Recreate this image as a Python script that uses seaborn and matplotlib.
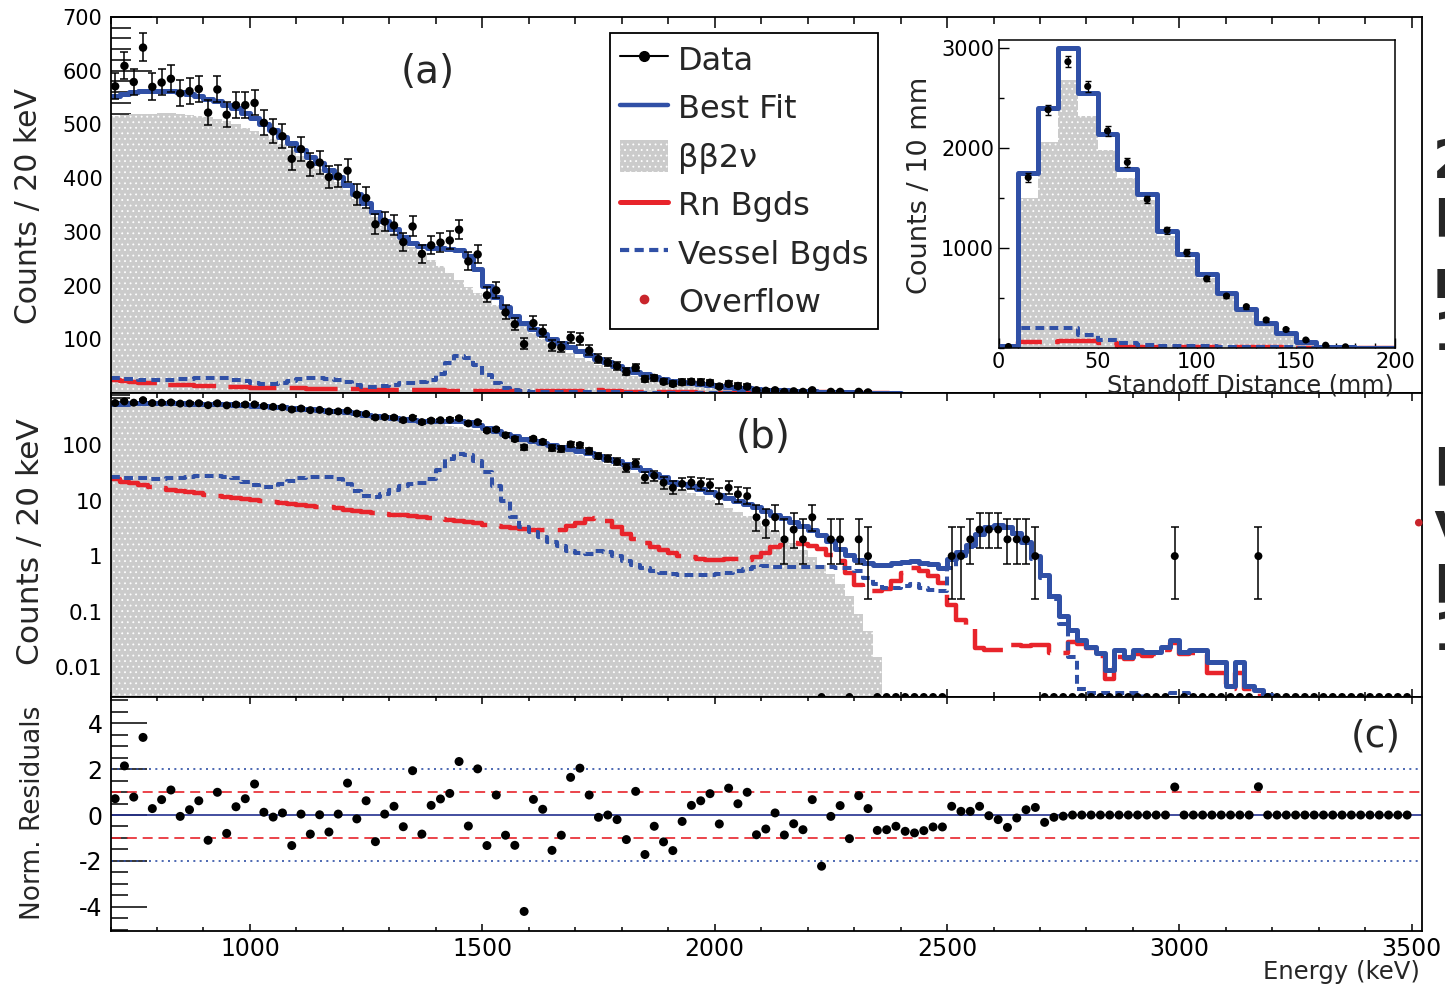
import numpy as np
import pandas as pd
import matplotlib
matplotlib.use("Agg")
import matplotlib.pyplot as plt
import seaborn as sns
from matplotlib.ticker import FixedLocator, MultipleLocator, LogLocator, NullFormatter, FuncFormatter
from matplotlib.lines import Line2D
from matplotlib.patches import Patch

sns.set_style("ticks")
plt.rcParams["font.family"] = ["DejaVu Sans"]
plt.rcParams["axes.unicode_minus"] = False
plt.rcParams["hatch.linewidth"] = 0.6

# ---------------- energy spectrum: 20 keV bins, 700-3500 keV ----------------
energy_edges = np.arange(700, 3501, 20)
energy = energy_edges[:-1] + 10

data_counts = np.array([
    571, 609, 579, 643, 570, 578, 585, 558, 562, 566,
    522, 565, 518, 536, 536, 540, 503, 487, 478, 436,
    454, 425, 429, 402, 403, 414, 369, 363, 314, 319,
    312, 281, 310, 259, 275, 280, 284, 304, 245, 258,
    182, 191, 150, 128, 91, 130, 114, 88, 85, 103,
    100, 79, 63, 57, 50, 39, 47, 26, 28, 21,
    17, 20, 21, 20, 19, 12, 17, 13, 12, 5,
    4, 5, 2, 3, 2, 5, 0, 2, 2, 0,
    2, 1, 0, 0, 0, 0, 0, 0, 0, 0,
    1, 1, 2, 3, 3, 3, 2, 2, 2, 1,
    0, 0, 0, 0, 0, 0, 0, 0, 0, 0,
    0, 0, 0, 0, 1, 0, 0, 0, 0, 0,
    0, 0, 0, 1, 0, 0, 0, 0, 0, 0,
    0, 0, 0, 0, 0, 0, 0, 0, 0, 0,
], dtype=float)

best_fit = np.array([
    553, 557, 560, 562, 563, 563, 562, 560, 557, 553,
    548, 543, 537, 530, 521, 512, 501, 489, 477, 465,
    453, 440, 428, 416, 402, 388, 371, 354, 337, 320,
    305, 291, 280, 273, 270, 270, 269, 267, 255, 230,
    200, 178, 160, 144, 131, 120, 110, 101, 93, 86,
    78, 71, 64, 57, 51, 45, 40, 35, 30.5, 26.5,
    22, 20, 18, 16, 14.2, 12.6, 11.1, 9.8, 8.6, 7.5,
    6.5, 5.6, 4.8, 4.1, 3.5, 2.95, 2.4, 1.85, 1.35, 1.05,
    0.85, 0.74, 0.69, 0.70, 0.74, 0.79, 0.80, 0.76, 0.72, 0.62,
    0.9, 1.2, 1.6, 2.5, 3.3, 3.6, 3.3, 2.6, 1.8, 1.0,
    0.45, 0.19, 0.085, 0.046, 0.031, 0.023, 0.018, 0.009, 0.02, 0.015,
    0.02, 0.019, 0.019, 0.023, 0.031, 0.019, 0.02, 0.02, 0.0125, 0.0125,
    0.0045, 0.0125, 0.0045, 0.0039, 0.0032, 0.001, 0.001, 0.001, 0.001, 0.001,
    0.001, 0.001, 0.001, 0.001, 0.001, 0.001, 0.001, 0.001, 0.001, 0.001,
])

bb2nu = np.array([
    516, 518, 519, 520, 520, 521, 521, 520, 518, 516,
    513, 510, 506, 501, 494, 488, 481, 472, 463, 452,
    441, 429, 417, 405, 392, 378, 362, 345, 328, 311,
    297, 284, 272, 260, 248, 236, 223, 211, 198, 187,
    176, 163, 150, 137, 124, 112, 101, 91, 82, 74,
    66, 59, 52, 46, 40.5, 35.5, 31, 27, 23.5, 20.3,
    18, 15.8, 13.8, 12, 10.3, 8.8, 7.4, 6.2, 5.2, 4.3,
    3.5, 2.8, 2.2, 1.7, 1.3, 0.95, 0.7, 0.48, 0.32, 0.19,
    0.09, 0.045, 0.015, 0, 0, 0, 0, 0, 0, 0,
    0, 0, 0, 0, 0, 0, 0, 0, 0, 0,
    0, 0, 0, 0, 0, 0, 0, 0, 0, 0,
    0, 0, 0, 0, 0, 0, 0, 0, 0, 0,
    0, 0, 0, 0, 0, 0, 0, 0, 0, 0,
    0, 0, 0, 0, 0, 0, 0, 0, 0, 0,
])

rn_bgds = np.array([
    24, 22, 20.5, 19, 17.7, 16.6, 15.7, 14.9, 14.2, 13.5,
    12.8, 12.2, 11.6, 11.1, 10.6, 10.2, 9.8, 9.4, 9.0, 8.7,
    8.4, 8.1, 7.8, 7.5, 7.2, 6.9, 6.6, 6.3, 6.0, 5.8,
    5.6, 5.4, 5.2, 5.0, 4.9, 4.7, 4.5, 4.3, 4.1, 3.9,
    3.7, 3.5, 3.35, 3.2, 3.05, 2.95, 2.9, 2.9, 3.0, 3.5,
    4.0, 4.6, 4.8, 4.3, 3.4, 2.5, 2.0, 1.7, 1.45, 1.28,
    1.12, 1.02, 0.95, 0.9, 0.86, 0.86, 0.9, 0.88, 0.85, 0.95,
    1.15, 1.45, 1.6, 1.7, 1.65, 1.55, 1.35, 1.05, 0.8, 0.5,
    0.3, 0.24, 0.24, 0.26, 0.35, 0.5, 0.6, 0.55, 0.43, 0.33,
    0.13, 0.07, 0.05, 0.022, 0.02, 0.02, 0.025, 0.025, 0.024, 0.025,
    0.025, 0.018, 0.018, 0.028, 0.026, 0.022, 0.016, 0.006, 0.015, 0.014,
    0.017, 0.016, 0.017, 0.02, 0.027, 0.017, 0.018, 0.018, 0.008, 0.008,
    0.004, 0.008, 0.004, 0.003, 0.002, 0.001, 0.001, 0.001, 0.001, 0.001,
    0.001, 0.001, 0.001, 0.001, 0.001, 0.001, 0.001, 0.001, 0.001, 0.001,
])

vessel_bgds = np.array([
    27, 26, 25.5, 25, 24.5, 24.5, 25, 25.5, 26.5, 27.5,
    28, 28, 27, 25, 21.5, 19, 17.5, 17.5, 19.5, 22.5,
    25.5, 27, 27, 26.5, 24, 20, 15, 12, 11.8, 13,
    15.5, 18, 19.5, 21, 24, 36, 55, 68, 66, 52,
    33, 18, 10, 5.0, 3.4, 2.7, 2.2, 1.8, 1.5, 1.25,
    1.12, 1.1, 1.25, 1.2, 1.0, 0.8, 0.68, 0.6, 0.53, 0.5,
    0.48, 0.46, 0.45, 0.45, 0.45, 0.47, 0.5, 0.54, 0.58, 0.63,
    0.66, 0.64, 0.63, 0.63, 0.63, 0.63, 0.63, 0.63, 0.62, 0.6,
    0.53, 0.4, 0.32, 0.27, 0.27, 0.29, 0.32, 0.27, 0.25, 0.24,
    0.6, 1.0, 1.45, 2.35, 3.15, 3.5, 3.2, 2.5, 1.7, 0.9,
    0.4, 0.17, 0.06, 0.015, 0.004, 0.0034, 0.0034, 0.0034, 0.0034, 0.0034,
    0.0034, 0.001, 0.001, 0.001, 0.0034, 0.0034, 0.001, 0.001, 0.001, 0.001,
    0.001, 0.001, 0.001, 0.001, 0.001, 0.001, 0.001, 0.001, 0.001, 0.001,
    0.001, 0.001, 0.001, 0.001, 0.001, 0.001, 0.001, 0.001, 0.001, 0.001,
])

norm_residuals = np.array([
    0.71, 2.14, 0.78, 3.38, 0.28, 0.67, 1.09, -0.06, 0.23, 0.62,
    -1.10, 0.99, -0.80, 0.36, 0.71, 1.35, 0.12, -0.09, 0.09, -1.33,
    0.04, -0.83, 0.01, -0.74, 0.04, 1.39, -0.17, 0.62, -1.16, 0.04,
    0.38, -0.51, 1.93, -0.83, 0.42, 0.70, 0.94, 2.33, -0.48, 2.01,
    -1.33, 0.87, -0.88, -1.32, -4.20, 0.68, 0.25, -1.54, -0.88, 1.64,
    2.04, 0.87, -0.10, 0.00, -0.20, -1.07, 1.03, -1.72, -0.49, -1.17,
    -1.55, -0.28, 0.42, 0.62, 0.93, -0.39, 1.17, 0.49, 0.99, -0.86,
    -0.61, 0.09, -0.87, -0.38, -0.64, 0.67, -2.23, -0.06, 0.41, -1.03,
    0.84, 0.28, -0.67, -0.64, -0.49, -0.71, -0.78, -0.68, -0.52, -0.52,
    0.38, 0.16, 0.16, 0.38, -0.03, -0.20, -0.54, -0.13, 0.23, 0.33,
    -0.32, -0.10, -0.05, 0, 0, 0, 0, 0, 0, 0,
    0, 0, 0, 0, 1.22, 0, 0, 0, 0, 0,
    0, 0, 0, 1.23, 0, 0, 0, 0, 0, 0,
    0, 0, 0, 0, 0, 0, 0, 0, 0, 0,
])

overflow_energy = 3515
overflow_counts = 4

# ---------------- standoff distance: 10 mm bins, 0-200 mm ----------------
standoff_edges = np.arange(0, 201, 10)
standoff = standoff_edges[:-1] + 5
so_data = np.array([15, 1705, 2383, 2863, 2616, 2171, 1856, 1486, 1178, 955,
                    692, 520, 414, 281, 185, 80, 28, 12, 0, 0], dtype=float)
so_fit = np.array([20, 1753, 2400, 3000, 2548, 2144, 1795, 1538, 1171, 938,
                   740, 551, 390, 253, 151, 65, 14, 7, 4, 3])
so_bb2nu = np.array([0, 1503, 2062, 2678, 2325, 1983, 1702, 1480, 1120, 895,
                     705, 525, 370, 238, 140, 60, 10, 0, 0, 0])
so_rn = np.array([0, 65, 65, 68, 66, 50, 15, 13, 12, 11,
                  10, 9, 8, 7, 6, 5, 4, 3, 2, 1])
so_vessel = np.array([5, 205, 205, 200, 135, 85, 55, 35, 25, 20,
                      16, 13, 11, 9, 7, 5, 4, 3, 2, 1])

# ---------------- styling ----------------
BLUE = "#3050a6"
RED = "#e8242b"
GRAY = "#cbcbcb"
OVF = "#c9252c"
NAVY = "#23308f"
LW_FIT, LW_RN, LW_VES = 3.6, 3.2, 2.9
DASH_RN = (0, (11, 3))
DASH_VES = (0, (2.2, 1.3))

W, H = 1445, 989
fig = plt.figure(figsize=(W / 100, H / 100), dpi=100)


def px_axes(left, top, right, bottom):
    return fig.add_axes([left / W, 1 - bottom / H, (right - left) / W, (bottom - top) / H])


def poisson_interval(n):
    n = np.asarray(n, dtype=float)
    m = np.maximum(n, 1.0)
    lo = np.where(n > 0, m * (1 - 1 / (9 * m) - 1 / (3 * np.sqrt(m))) ** 3, 0.0)
    hi = (n + 1) * (1 - 1 / (9 * (n + 1)) + 1 / (3 * np.sqrt(n + 1))) ** 3
    return lo, hi


def step_line(ax, x, w, edges, color, lw, ls="-", z=4):
    frame = pd.DataFrame({"x": x, "w": w})
    sns.histplot(data=frame, x="x", weights="w", bins=[float(e) for e in edges],
                 element="step", fill=False, color=color, linewidth=lw,
                 linestyle=ls, ax=ax, zorder=z)


def bb_fill(ax, vals, edges, baseline):
    ax.stairs(vals, edges, baseline=baseline, fill=True, facecolor=GRAY,
              edgecolor="white", hatch="...", linewidth=0, zorder=3)


def data_points(ax, x, n, size, clip=True, floor=None):
    pos = n > 0
    lo, hi = poisson_interval(n[pos])
    ax.errorbar(x[pos], n[pos], yerr=[n[pos] - lo, hi - n[pos]], fmt="none",
                ecolor="black", elinewidth=1.1, capsize=2.6, capthick=1.1,
                zorder=6, clip_on=clip)
    if floor is None:
        xs, ys = x[pos], n[pos]
    else:
        xs, ys = x, np.where(pos, n, floor)
    sns.scatterplot(x=xs, y=ys, color="black", s=size, edgecolor="none", ax=ax,
                    zorder=7, clip_on=clip, legend=False)


ax_a = px_axes(110.5, 17, 1422, 393)
ax_b = px_axes(110.5, 393, 1422, 697)
ax_c = px_axes(110.5, 697, 1422, 930.5)

# ---- (a) linear spectrum, 700-2400 keV ----
sel = energy < 2400
nsel = int(sel.sum())
ea = energy_edges[: nsel + 1]
bb_fill(ax_a, bb2nu[sel], ea, 0)
step_line(ax_a, energy[sel], rn_bgds[sel], ea, RED, LW_RN, DASH_RN)
step_line(ax_a, energy[sel], vessel_bgds[sel], ea, BLUE, LW_VES, DASH_VES)
step_line(ax_a, energy[sel], best_fit[sel], ea, BLUE, LW_FIT, "-", z=5)
data_points(ax_a, energy[sel], data_counts[sel], 37)
ax_a.set_ylim(0, 700)

# ---- (b) log spectrum ----
YMIN_B, YMAX_B = 0.0029, 865
bb_fill(ax_b, np.where(bb2nu > 0, bb2nu, 1e-5), energy_edges, 1e-5)
step_line(ax_b, energy, rn_bgds, energy_edges, RED, LW_RN, DASH_RN)
step_line(ax_b, energy, vessel_bgds, energy_edges, BLUE, LW_VES, DASH_VES)
step_line(ax_b, energy, best_fit, energy_edges, BLUE, LW_FIT, "-", z=5)
ax_b.set_yscale("log")
data_points(ax_b, energy, data_counts, 33, clip=False, floor=YMIN_B)
ax_b.scatter([overflow_energy], [overflow_counts], s=30, color=OVF,
             edgecolor="none", zorder=8, clip_on=False)
ax_b.set_ylim(YMIN_B, YMAX_B)

# ---- (c) normalised residuals ----
ax_c.axhline(0, color=NAVY, lw=1.2, zorder=2)
for v in (1, -1):
    ax_c.axhline(v, color=RED, lw=1.2, ls=(0, (6, 3.5)), zorder=2)
for v in (2, -2):
    ax_c.axhline(v, color=BLUE, lw=1.2, ls=(0, (1.2, 2.6)), zorder=2)
sns.scatterplot(x=energy, y=norm_residuals, color="black", s=42,
                edgecolor="none", ax=ax_c, zorder=6, legend=False)
ax_c.set_ylim(-5.03, 5.14)

# ---- axes cosmetics ----
for ax in (ax_a, ax_b, ax_c):
    ax.set_xlim(700, 3522)
    ax.set_xlabel("")
    ax.set_ylabel("")
    for side, sp in ax.spines.items():
        sp.set_visible(True)
        sp.set_color("black")
        sp.set_linewidth(1.3)
        sp.set_zorder(6)
    ax.xaxis.set_major_locator(FixedLocator([1000, 1500, 2000, 2500, 3000, 3500]))
    ax.xaxis.set_minor_locator(MultipleLocator(100))
    ax.tick_params(axis="both", which="both", direction="in", width=1.1, colors="black",
                   right=False)

ax_a.tick_params(axis="x", which="major", top=True, bottom=False, length=7.9,
                 labelbottom=False)
ax_a.tick_params(axis="x", which="minor", top=True, bottom=False, length=5)
ax_a.yaxis.set_major_locator(FixedLocator(range(100, 701, 100)))
ax_a.yaxis.set_minor_locator(MultipleLocator(20))
ax_a.tick_params(axis="y", which="major", length=29.5, labelsize=15, pad=5.8)
ax_a.tick_params(axis="y", which="minor", length=14.5)

ax_b.tick_params(axis="x", which="major", top=True, bottom=True, length=5.8,
                 labelbottom=False)
ax_b.tick_params(axis="x", which="minor", top=True, bottom=True, length=3.3)
ax_b.yaxis.set_major_locator(FixedLocator([0.01, 0.1, 1, 10, 100]))
ax_b.yaxis.set_minor_locator(LogLocator(base=10, subs=np.arange(2, 10), numticks=20))
ax_b.yaxis.set_major_formatter(FuncFormatter(lambda v, p: f"{v:g}"))
ax_b.yaxis.set_minor_formatter(NullFormatter())
ax_b.tick_params(axis="y", which="major", length=28, labelsize=15.5, pad=5.8)
ax_b.tick_params(axis="y", which="minor", length=14)

ax_c.tick_params(axis="x", which="major", top=True, bottom=True, length=5.2,
                 labelsize=17, pad=5)
ax_c.tick_params(axis="x", which="minor", top=True, bottom=True, length=2.8)
ax_c.yaxis.set_major_locator(FixedLocator([-4, -2, 0, 2, 4]))
ax_c.yaxis.set_minor_locator(MultipleLocator(0.5))
ax_c.tick_params(axis="y", which="major", length=26, labelsize=17, pad=5.8)
ax_c.tick_params(axis="y", which="minor", length=12)

# ---- inset: standoff distance ----
ax_in = px_axes(998.5, 40, 1395, 348)
ax_in.set_facecolor("white")
bb_fill(ax_in, so_bb2nu, standoff_edges, 0)
step_line(ax_in, standoff, so_rn, standoff_edges, RED, LW_RN, DASH_RN)
step_line(ax_in, standoff, so_vessel, standoff_edges, BLUE, LW_VES, DASH_VES)
step_line(ax_in, standoff, so_fit, standoff_edges, BLUE, LW_FIT, "-", z=5)
pos = so_data > 0
ax_in.errorbar(standoff[pos], so_data[pos], yerr=np.sqrt(so_data[pos]), fmt="none",
               ecolor="black", elinewidth=1.0, capsize=2.2, capthick=1.0, zorder=6)
sns.scatterplot(x=standoff[pos], y=so_data[pos], color="black", s=26,
                edgecolor="none", ax=ax_in, zorder=7, legend=False)
ax_in.set_xlim(0, 200)
ax_in.set_ylim(0, 3080)
ax_in.set_xlabel("")
ax_in.set_ylabel("")
for sp in ax_in.spines.values():
    sp.set_visible(True)
    sp.set_color("black")
    sp.set_linewidth(1.1)
    sp.set_zorder(6)
ax_in.xaxis.set_major_locator(FixedLocator([0, 50, 100, 150, 200]))
ax_in.xaxis.set_minor_locator(MultipleLocator(10))
ax_in.yaxis.set_major_locator(FixedLocator([1000, 2000, 3000]))
ax_in.yaxis.set_minor_locator(MultipleLocator(500))
ax_in.tick_params(axis="both", which="both", direction="in", width=1.0, colors="black",
                  labelsize=15)
ax_in.tick_params(axis="both", which="major", length=7)
ax_in.tick_params(axis="both", which="minor", length=3.6)
ax_in.tick_params(axis="y", pad=3.2)
ax_in.tick_params(axis="x", pad=3)

# ---- text ----
fig.text(28.5 / W, 1 - 206 / H, "Counts / 20 keV", rotation=90, ha="center", va="center",
         fontsize=21.5)
fig.text(31 / W, 1 - 542 / H, "Counts / 20 keV", rotation=90, ha="center", va="center",
         fontsize=22.5)
fig.text(33.5 / W, 1 - 813 / H, "Norm. Residuals", rotation=90, ha="center", va="center",
         fontsize=19)
fig.text(1420 / W, 1 - 972 / H, "Energy (keV)", ha="right", va="center", fontsize=17.5)
fig.text(428 / W, 1 - 72 / H, "(a)", ha="center", va="center", fontsize=28)
fig.text(763 / W, 1 - 437 / H, "(b)", ha="center", va="center", fontsize=28)
fig.text(1376 / W, 1 - 737 / H, "(c)", ha="center", va="center", fontsize=27)
fig.text(920 / W, 1 - 185 / H, "Counts / 10 mm", rotation=90, ha="center", va="center",
         fontsize=19.5)
fig.text(1394 / W, 1 - 386 / H, "Standoff Distance (mm)", ha="right", va="center",
         fontsize=17.3)

# ---- legend ----
handles = [
    Line2D([], [], color="black", lw=1.5, marker="o", markersize=7),
    Line2D([], [], color=BLUE, lw=3.2),
    Patch(facecolor=GRAY, edgecolor="white", hatch="...", linewidth=0),
    Line2D([], [], color=RED, lw=3.6),
    Line2D([], [], color=BLUE, lw=3.0, linestyle=DASH_VES),
    Line2D([], [], color=OVF, lw=0, marker="o", markersize=6),
]
labels = ["Data", "Best Fit", "ββ2ν", "Rn Bgds", "Vessel Bgds", "Overflow"]
leg = fig.legend(handles, labels, loc="upper left", bbox_to_anchor=(610 / W, 1 - 33 / H),
                 bbox_transform=fig.transFigure, frameon=True, fancybox=False,
                 edgecolor="black", framealpha=1, fontsize=23, numpoints=1,
                 handlelength=1.53, handleheight=1.2, handletextpad=0.3,
                 labelspacing=0.45, borderpad=0.3, borderaxespad=0)
leg.get_frame().set_linewidth(1.3)

# ---- neighbouring page text cut at the right margin ----
for ch, yb in [("2", 178), ("B", 236), ("r", 298), ("1", 350),
               ("B", 485), ("v", 540), ("B", 602), ("1", 650)]:
    fig.text(1433 / W, 1 - yb / H, ch, fontsize=38, fontweight="bold",
             ha="left", va="baseline")

fig.savefig("out.png", dpi=100)
